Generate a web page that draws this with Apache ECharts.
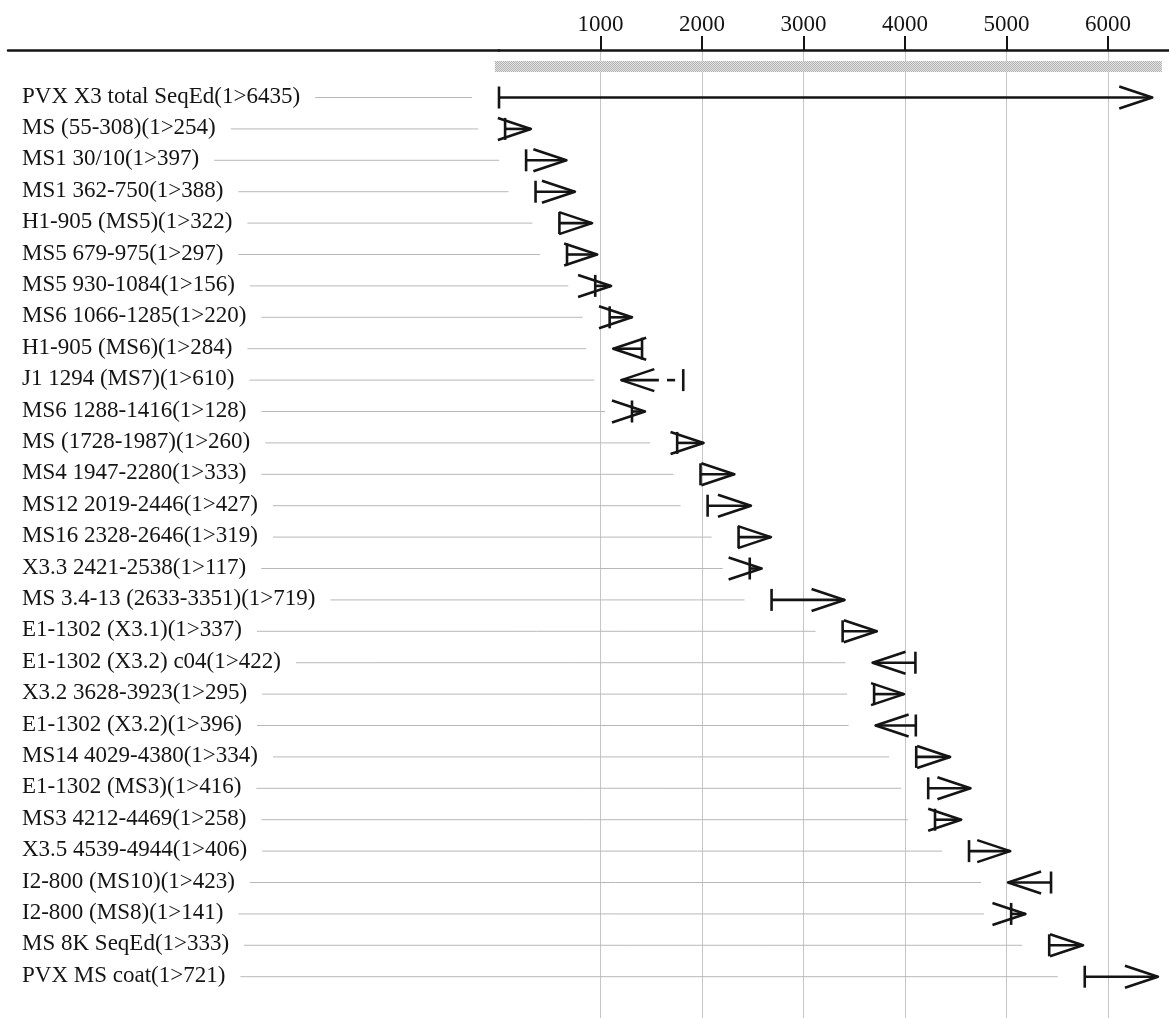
<!DOCTYPE html>
<html>
<head>
<meta charset="utf-8">
<title>PVX MS contig assembly</title>
<script src="https://cdn.jsdelivr.net/npm/echarts@6/dist/echarts.min.js"></script>
<style>
  html, body { margin: 0; padding: 0; background: #ffffff; }
  #chart { width: 1169px; height: 1018px; }
</style>
</head>
<body>
<div id="chart"></div>
<script>
// Fragment names, top to bottom
const readNames = [
  'PVX X3 total SeqEd(1>6435)',
  'MS (55-308)(1>254)',
  'MS1 30/10(1>397)',
  'MS1 362-750(1>388)',
  'H1-905 (MS5)(1>322)',
  'MS5 679-975(1>297)',
  'MS5 930-1084(1>156)',
  'MS6 1066-1285(1>220)',
  'H1-905 (MS6)(1>284)',
  'J1 1294 (MS7)(1>610)',
  'MS6 1288-1416(1>128)',
  'MS (1728-1987)(1>260)',
  'MS4 1947-2280(1>333)',
  'MS12 2019-2446(1>427)',
  'MS16 2328-2646(1>319)',
  'X3.3 2421-2538(1>117)',
  'MS 3.4-13 (2633-3351)(1>719)',
  'E1-1302 (X3.1)(1>337)',
  'E1-1302 (X3.2) c04(1>422)',
  'X3.2 3628-3923(1>295)',
  'E1-1302 (X3.2)(1>396)',
  'MS14 4029-4380(1>334)',
  'E1-1302 (MS3)(1>416)',
  'MS3 4212-4469(1>258)',
  'X3.5 4539-4944(1>406)',
  'I2-800 (MS10)(1>423)',
  'I2-800 (MS8)(1>141)',
  'MS 8K SeqEd(1>333)',
  'PVX MS coat(1>721)'
];

// Read lengths (bases), as given in each name
const readLengths = [6435, 254, 397, 388, 322, 297, 156, 220, 284, 610, 128, 260, 333, 427, 319,
                     117, 719, 337, 422, 295, 396, 334, 416, 258, 406, 423, 141, 333, 721];

// Leftmost contig position of each read
const readStarts = [0, 60, 267, 360, 595, 670, 948, 1090, 1125, 1205, 1310, 1755, 1985, 2055, 2360,
                    2470, 2685, 3385, 3680, 3695, 3710, 4110, 4228, 4295, 4630, 5015, 5045, 5420, 5770];

// Strand: 1 = forward (points right), -1 = reverse complement (points left)
const readStrands = [1, 1, 1, 1, 1, 1, 1, 1, -1, -1, 1, 1, 1, 1, 1,
                     1, 1, 1, -1, 1, -1, 1, 1, 1, 1, -1, 1, 1, 1];

// Unaligned stretches inside a read: [row, from, to]
const readBreaks = [[9, 1575, 1655], [9, 1735, 1815]];

// Consensus coverage band
const consensusSpan = [-40, 6530];

// Ruler ticks
const tickValues = [1000, 2000, 3000, 4000, 5000, 6000];

const INK = '#141414';
const SERIF = '"Liberation Serif", "Times New Roman", serif';
const LABEL_FONT = '23px ' + SERIF;

const measureCtx = document.createElement('canvas').getContext('2d');
measureCtx.font = LABEL_FONT;
function textWidth(s) { return measureCtx.measureText(s).width; }

// Stippled grey fill for the consensus band
function stipple() {
  const c = document.createElement('canvas');
  c.width = 4; c.height = 4;
  const g = c.getContext('2d');
  g.fillStyle = '#e2e2e2'; g.fillRect(0, 0, 4, 4);
  g.fillStyle = '#b4b4b4';
  g.fillRect(0, 0, 1, 1); g.fillRect(2, 0, 1, 1);
  g.fillRect(1, 1, 1, 1); g.fillRect(3, 1, 1, 1);
  g.fillRect(0, 2, 1, 1); g.fillRect(2, 2, 1, 1);
  g.fillRect(1, 3, 1, 1); g.fillRect(3, 3, 1, 1);
  return c;
}

const fragmentData = readNames.map((n, i) => [i, readStarts[i], readLengths[i], readStrands[i]]);

const LINE_W = 2.6;
const HEAD_LEN = 33;
const HEAD_HALF = 11;

function renderFragment(params, api) {
  const i = api.value(0), left = api.value(1), len = api.value(2), dir = api.value(3);
  const a = api.coord([left, i]);
  const b = api.coord([left + len, i]);
  const y = a[1];
  const stroke = { stroke: INK, lineWidth: LINE_W, fill: null, lineJoin: 'round' };

  // shaft, split around unaligned stretches
  let runs = [[left, left + len]];
  readBreaks.filter(g => g[0] === i).forEach(g => {
    const next = [];
    runs.forEach(r => {
      if (g[2] <= r[0] || g[1] >= r[1]) { next.push(r); return; }
      if (g[1] > r[0]) next.push([r[0], g[1]]);
      if (g[2] < r[1]) next.push([g[2], r[1]]);
    });
    runs = next;
  });
  const children = runs.map(r => {
    const p = api.coord([r[0], i]), q = api.coord([r[1], i]);
    return { type: 'line', shape: { x1: p[0], y1: y, x2: q[0], y2: y }, style: stroke };
  });

  const barX = dir > 0 ? a[0] : b[0];
  const tipX = dir > 0 ? b[0] : a[0];
  children.push({ type: 'line', shape: { x1: barX, y1: y - HEAD_HALF, x2: barX, y2: y + HEAD_HALF }, style: stroke });
  children.push({
    type: 'polyline',
    shape: { points: [[tipX - dir * HEAD_LEN, y - HEAD_HALF], [tipX, y], [tipX - dir * HEAD_LEN, y + HEAD_HALF]] },
    style: stroke
  });
  return { type: 'group', children };
}

function renderLabel(params, api) {
  const i = api.value(0), left = api.value(1);
  const p = api.coord([left, i]);
  const name = readNames[i];
  const x0 = 22 + textWidth(name) + 15;
  return {
    type: 'group',
    children: [
      {
        type: 'text',
        style: {
          text: name, x: 22, y: p[1] - 1, font: LABEL_FONT, fill: INK,
          textAlign: 'left', textVerticalAlign: 'middle', align: 'left', verticalAlign: 'middle'
        }
      },
      {
        type: 'line',
        shape: { x1: x0, y1: p[1], x2: p[0] - 27, y2: p[1] },
        style: { stroke: '#b8b8b8', lineWidth: 1 }
      }
    ]
  };
}

function renderBand(params, api) {
  const p = api.coord([api.value(0), api.value(2)]);
  const q = api.coord([api.value(1), api.value(2)]);
  return {
    type: 'rect',
    shape: { x: p[0], y: p[1] - 5.5, width: q[0] - p[0], height: 11 },
    style: { fill: { image: stipple(), repeat: 'repeat' } }
  };
}

const chart = echarts.init(document.getElementById('chart'), null, { renderer: 'canvas' });

chart.setOption({
  animation: false,
  backgroundColor: '#ffffff',
  grid: [
    { left: 499, right: 0, top: 50, bottom: 0 },
    { left: 8, width: 491, top: 50, bottom: 0 }
  ],
  xAxis: [
    {
      gridIndex: 0,
      type: 'value',
      position: 'top',
      min: 0,
      max: 6600,
      interval: 1000,
      axisLine: { show: true, onZero: false, lineStyle: { color: INK, width: 2.5 } },
      axisTick: { show: true, customValues: tickValues, length: 14, lineStyle: { color: INK, width: 2 } },
      axisLabel: {
        customValues: tickValues, margin: 14, color: INK,
        fontFamily: SERIF, fontSize: 23,
        formatter: v => String(v)
      },
      splitLine: {
        show: true,
        lineStyle: { color: '#c6c6c6', width: 1 }
      }
    },
    {
      gridIndex: 1,
      type: 'value',
      position: 'top',
      min: 0,
      max: 1,
      axisLine: { show: true, onZero: false, lineStyle: { color: INK, width: 2.5 } },
      axisTick: { show: false },
      axisLabel: { show: false },
      splitLine: { show: false }
    }
  ],
  yAxis: [
    { gridIndex: 0, type: 'value', inverse: true, min: -1.513, max: 29.315, show: false },
    { gridIndex: 1, type: 'value', show: false }
  ],
  series: [
    {
      type: 'custom',
      name: 'consensus',
      xAxisIndex: 0, yAxisIndex: 0,
      clip: false,
      silent: true,
      renderItem: renderBand,
      data: [[consensusSpan[0], consensusSpan[1], -0.99]]
    },
    {
      type: 'custom',
      name: 'labels',
      xAxisIndex: 0, yAxisIndex: 0,
      clip: false,
      silent: true,
      renderItem: renderLabel,
      data: fragmentData.map(d => [d[0], d[1]])
    },
    {
      type: 'custom',
      name: 'reads',
      xAxisIndex: 0, yAxisIndex: 0,
      clip: false,
      silent: true,
      renderItem: renderFragment,
      data: fragmentData
    }
  ]
});
</script>
</body>
</html>
